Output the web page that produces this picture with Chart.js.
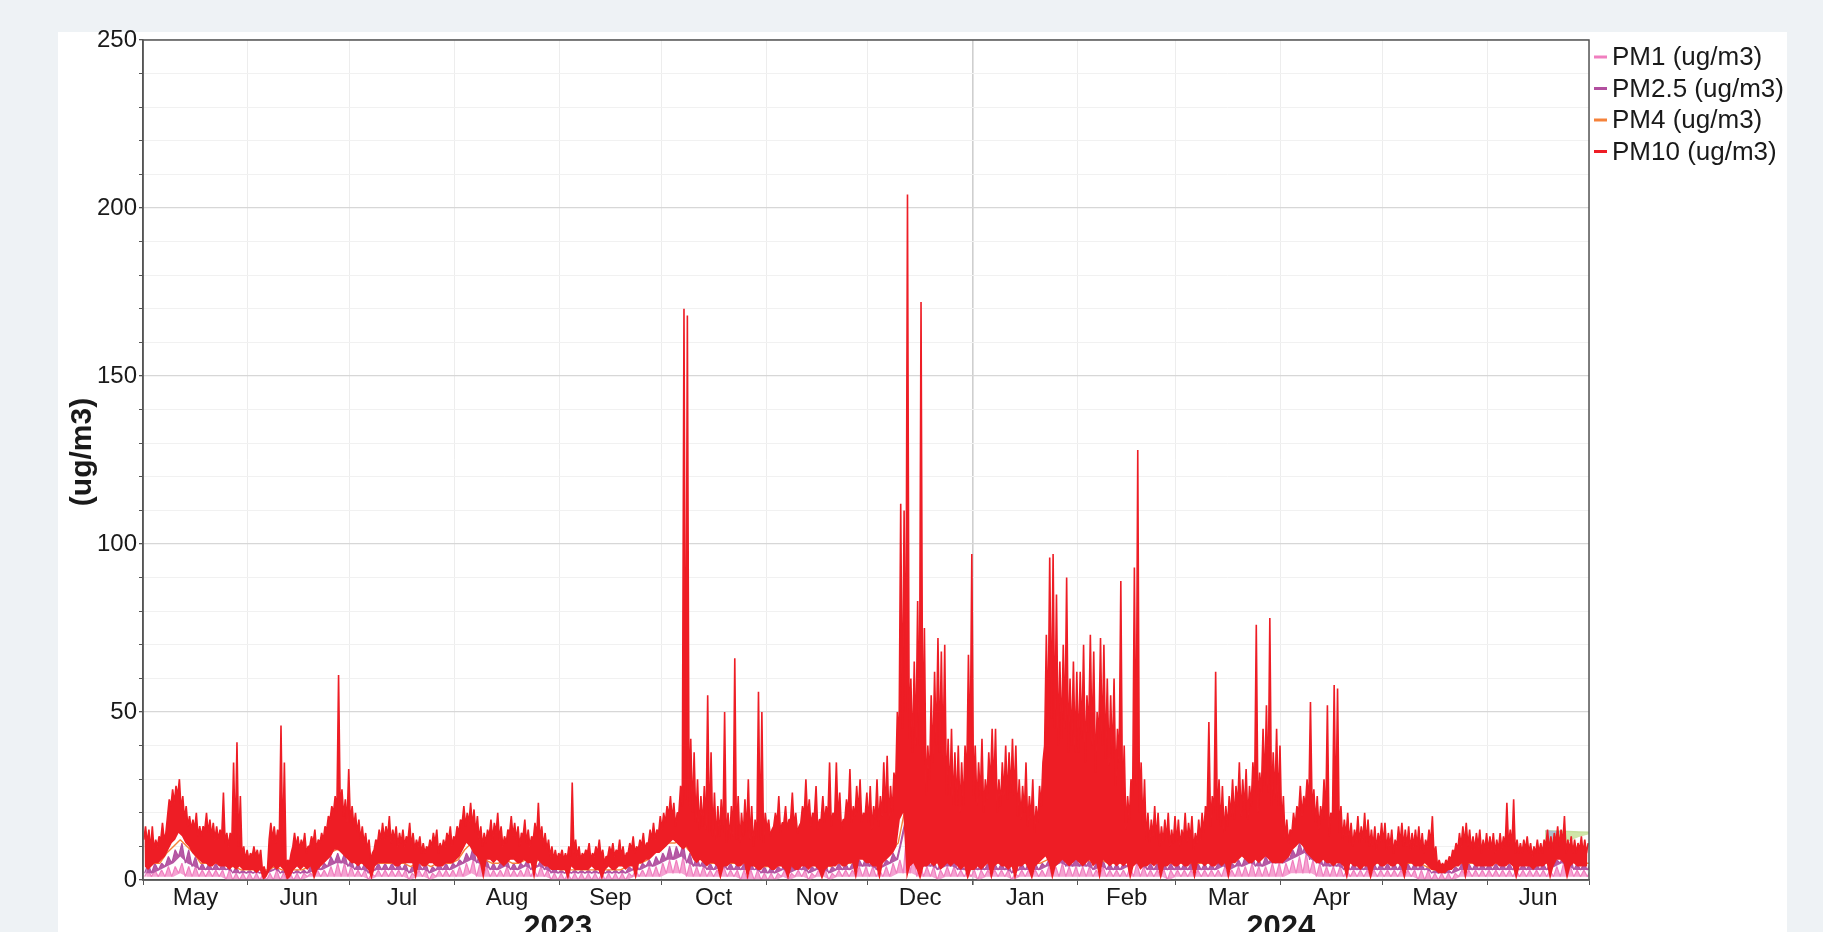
<!DOCTYPE html>
<html>
<head>
<meta charset="utf-8">
<title>PM (ug/m3)</title>
<script src="https://cdn.jsdelivr.net/npm/chart.js@4.4.1/dist/chart.umd.min.js"></script>
<style>
  html, body { margin: 0; padding: 0; background: #eef2f5; }
  #wrap { position: relative; width: 1823px; height: 932px; }
</style>
</head>
<body>
<div id="wrap"><canvas id="pmChart"></canvas></div>
<script>
// x is counted in days from 1 May 2023
const monthNames = ['May', 'Jun', 'Jul', 'Aug', 'Sep', 'Oct', 'Nov', 'Dec', 'Jan', 'Feb', 'Mar', 'Apr', 'May', 'Jun'];
const monthStarts = [0, 31, 61, 92, 123, 153, 184, 214, 245, 276, 305, 336, 366, 397, 427];
const yearNames = ['2023', '2024'];
const yearStarts = [0, 245, 427];
const seriesNames = ['PM1 (ug/m3)', 'PM2.5 (ug/m3)', 'PM4 (ug/m3)', 'PM10 (ug/m3)'];

// PM10 per day: highest reading, usual level, lowest reading
const pm10High = [
  16,15,16,12,13,17,14,24,27,28,30,25,22,19,18,20,16,16,20,18,17,16,15,26,14,14,35,41,25,10,9,
  8,10,9,9,4,3,17,16,15,46,35,6,8,14,13,12,14,10,13,15,12,14,16,19,22,25,61,27,24,33,
  22,20,18,16,14,12,8,12,15,17,16,19,15,16,14,15,13,17,14,12,13,11,10,12,14,15,11,12,14,16,13,
  16,18,22,20,23,21,19,16,14,15,18,17,20,16,13,15,19,17,16,14,18,15,13,17,23,16,14,12,10,9,8,
  9,8,10,29,12,10,8,9,11,8,10,12,9,7,10,11,9,12,10,8,11,13,10,12,14,11,15,17,15,19,
  20,22,25,23,20,28,170,168,42,38,30,25,28,55,38,26,22,24,50,20,22,66,25,20,24,30,22,18,56,50,20,
  18,15,20,25,17,22,18,26,20,16,22,30,24,20,28,18,25,22,35,20,35,26,18,24,33,22,28,30,20,26,
  28,22,30,25,35,37,28,32,50,112,110,204,60,65,83,172,75,40,55,62,72,68,70,42,45,38,40,35,40,67,97,
  40,35,42,30,38,45,45,30,35,40,38,42,40,30,28,35,25,30,22,28,35,73,96,97,85,65,70,90,60,65,62,
  62,70,55,73,68,50,72,70,60,55,60,45,89,40,25,30,93,128,35,30,20,18,22,20,16,18,20,15,19,
  18,15,20,17,19,14,18,20,22,47,25,62,30,28,22,25,30,28,35,30,33,28,35,76,32,45,52,78,38,45,40,
  25,18,15,20,22,28,25,30,53,27,25,22,30,52,20,58,57,22,18,20,17,15,19,16,20,18,15,16,14,17,
  17,14,15,12,16,17,15,16,14,15,16,14,12,15,19,10,6,5,6,7,9,11,14,16,17,15,13,14,15,12,14,
  13,14,12,14,13,23,15,24,12,11,12,13,11,10,12,11,12,15,13,14,16,15,19,12,13,12,11,13,12,11
];
const pm10Mid = [
  12,11,9,9,10,12,12,19,22,23,25,21,18,16,15,15,13,13,15,14,13,12,12,13,11,10,12,12,10,7,6,
  6,7,7,6,3,2,12,12,11,12,10,4,5,10,10,9,10,8,10,11,9,11,12,15,18,20,20,21,19,17,
  17,16,14,12,11,9,6,9,11,12,12,13,11,12,10,11,10,12,10,9,10,8,8,9,10,11,8,9,10,12,10,
  12,14,17,16,17,16,14,12,10,11,13,12,14,12,10,11,14,13,12,10,13,11,10,12,13,12,10,9,7,6,6,
  7,6,6,7,8,7,6,7,8,6,7,8,7,5,7,8,7,8,7,6,8,9,8,9,10,9,11,12,12,14,
  15,17,19,18,16,20,22,24,22,20,17,15,16,15,14,13,12,13,14,11,12,13,12,11,13,14,12,10,12,12,11,
  15,13,16,17,14,17,15,18,16,14,17,19,18,16,19,15,18,17,19,16,19,18,15,18,20,17,19,20,17,19,
  17,15,18,16,19,20,18,20,28,40,45,50,42,38,40,40,36,25,30,35,40,38,36,25,25,22,22,20,22,30,35,
  25,22,25,20,24,28,27,20,22,25,24,26,25,19,18,20,16,18,14,17,22,40,45,48,45,40,42,45,38,40,38,
  38,42,35,44,40,32,42,40,36,34,36,28,35,22,15,18,25,28,20,16,12,11,13,12,10,11,12,10,11,
  11,10,12,11,12,9,11,12,14,20,16,20,18,16,14,16,19,18,22,19,21,18,22,26,20,26,28,26,22,24,22,
  16,12,11,14,16,20,19,22,22,20,17,15,18,18,13,18,18,14,12,13,11,10,12,11,12,11,10,10,9,11,
  11,9,10,8,10,11,10,10,9,10,10,9,8,10,11,7,4,4,4,5,6,8,9,10,11,10,9,9,10,8,9,
  9,9,8,9,9,10,10,10,8,8,8,9,8,7,8,8,8,10,9,9,11,10,11,8,9,8,8,9,8,8
];
const pm10Low = [
  4,3,4,5,5,6,7,9,11,12,14,13,11,10,8,7,6,5,5,4,4,5,4,4,4,3,4,3,4,3,3,
  3,3,2,3,0,1,3,4,3,4,3,0,1,3,4,3,4,3,4,0,3,4,5,6,7,9,9,8,7,6,
  5,5,4,5,4,3,0,4,5,5,5,5,5,4,4,5,5,5,5,0,5,4,4,5,5,4,4,4,5,5,5,
  6,7,9,11,10,8,7,5,0,6,6,5,6,5,4,5,6,6,5,5,6,5,5,0,6,5,4,4,3,3,3,
  3,3,0,4,3,3,3,3,3,4,3,3,0,3,4,3,3,4,4,3,4,4,0,5,5,6,6,7,8,8,
  9,10,11,12,11,10,9,10,8,6,5,6,5,4,5,5,4,0,4,4,5,5,4,4,5,0,4,4,3,3,4,
  4,3,3,4,4,3,0,4,3,3,4,4,3,4,4,3,0,3,4,4,4,5,4,4,5,5,0,6,6,5,
  5,4,4,0,5,6,7,8,10,18,20,0,4,5,3,0,4,4,5,4,5,3,4,5,4,5,4,3,4,0,3,
  3,4,3,4,5,0,4,5,4,4,3,4,0,4,4,5,3,0,4,5,6,7,5,0,4,5,6,5,4,5,6,
  5,4,5,6,4,5,0,6,5,4,5,4,5,4,5,0,4,5,3,4,4,5,4,5,0,4,4,5,4,
  4,5,4,4,5,0,5,5,4,5,4,4,5,4,5,0,5,5,6,7,6,5,5,6,5,6,7,6,5,5,5,
  5,6,7,9,10,11,10,8,7,6,5,5,6,5,5,4,5,5,4,0,5,4,4,3,4,4,0,4,5,4,
  4,5,4,4,5,4,0,5,5,4,4,4,5,4,3,3,2,2,2,3,3,4,4,5,0,5,5,4,4,4,4,
  4,4,5,4,4,4,5,4,0,4,4,4,4,3,4,4,4,5,0,4,6,6,5,0,4,5,4,4,4,4
];

// PM1, PM2.5 and PM4 per two days
const pm1High = [
  3,3,3,4,4,5,4,4,3,3,3,3,3,2,2,2, 2,2,2,3,2,2,2,2,2,3,3,4,5,5,4,
  3,3,2,3,3,3,3,3,2,3,3,2,3,3,3, 4,5,6,5,4,3,3,4,3,3,4,3,4,3,2,
  2,2,2,2,2,2,2,2,2,2,2,3,3,4,4, 5,6,6,7,5,4,4,3,3,4,3,3,3,3,3,2,
  2,2,3,2,3,3,2,3,3,2,3,3,3,4,4, 4,3,4,5,6,14,8,5,4,4,3,4,4,3,3,3,
  3,3,3,3,3,2,3,3,3,3,4,4,5,4,4, 4,4,3,4,3,3,3,4,5,4,3,3,3,3,3,
  3,3,3,3,3,3,4,3,4,4,5,4,4,5,5, 5,6,7,8,6,5,4,4,4,3,3,3,3,3,3,
  3,3,3,3,3,3,3,2,2,2,2,3,3,3,3,3, 3,3,3,3,3,3,3,3,3,4,5,4,3,3,3
];
const pm1Low = [
  1,1,1,1,1,2,1,1,1,1,1,1,0,0,0,0, 0,0,0,0,0,0,0,0,1,1,1,1,1,1,1,
  1,1,0,1,1,1,1,1,0,1,1,0,1,1,1, 1,1,2,1,1,1,1,1,1,1,1,1,1,1,0,
  0,0,0,0,0,0,0,0,0,0,0,1,1,1,1, 1,2,2,2,1,1,1,1,1,1,1,1,0,0,0,0,
  0,0,1,0,1,1,0,1,1,0,1,1,1,1,1, 1,1,1,1,2,2,2,1,1,1,0,1,1,1,1,1,
  0,1,1,1,1,0,1,1,1,1,1,1,1,1,1, 1,1,1,1,1,1,1,1,1,1,1,1,1,0,1,
  1,1,1,1,1,1,1,1,1,1,1,1,1,1,1, 1,2,2,2,2,1,1,1,1,1,1,1,1,1,1,
  1,1,1,1,1,0,0,0,0,0,0,1,1,1,1,1, 1,1,1,1,1,1,1,1,1,1,1,1,1,1,1
];
const pm25High = [
  5,5,5,7,9,11,9,7,5,5,5,5,4,4,3,3, 3,3,3,4,3,3,3,3,4,5,5,7,8,8,6,
  5,5,4,5,5,5,5,5,4,5,5,4,5,5,5, 6,8,10,8,6,5,5,6,5,5,6,5,6,5,4,
  3,3,3,3,3,3,3,3,3,3,4,5,5,6,7, 8,10,10,11,8,7,6,5,5,6,5,5,5,5,4,4,
  4,4,5,4,5,5,4,5,5,4,5,5,5,6,7, 7,5,6,8,10,19,11,8,7,6,5,6,6,5,5,5,
  5,5,5,5,5,4,5,5,5,5,6,7,8,7,7, 7,6,5,6,5,5,5,6,8,6,5,5,5,5,5,
  5,5,5,5,5,5,6,5,6,7,8,6,7,8,8, 8,9,11,12,10,8,7,6,6,5,5,5,5,5,5,
  5,5,5,5,5,5,4,3,3,3,4,5,5,5,5,5, 5,5,5,5,5,5,5,5,5,6,8,7,5,5,5
];
const pm25Low = [
  2,2,3,4,5,7,5,4,3,3,3,3,3,2,2,2, 2,2,2,3,2,2,2,2,2,3,3,4,5,5,4,
  3,3,2,3,3,3,3,3,2,3,3,2,3,3,3, 4,5,6,5,4,3,3,4,3,3,4,3,4,3,2,
  2,2,2,2,2,2,2,2,2,2,2,3,3,4,4, 5,6,6,7,5,4,4,3,3,4,3,3,3,3,3,2,
  2,2,3,2,3,3,2,3,3,2,3,3,3,4,4, 4,3,4,5,6,15,8,5,4,4,3,4,4,3,3,3,
  3,3,3,3,3,2,3,3,3,3,4,4,5,4,4, 4,4,3,4,3,3,3,4,5,4,3,3,3,3,3,
  3,3,3,3,3,3,4,3,4,4,5,4,4,5,5, 5,6,7,8,6,5,4,4,4,3,3,3,3,3,3,
  3,3,3,3,3,3,3,2,2,2,2,3,3,3,3,3, 3,3,3,3,3,3,3,3,3,4,5,4,3,3,3
];
const pm4High = [
  5,5,5,8,10,12,10,8,5,5,5,5,4,4,3,3, 3,3,3,4,3,3,3,3,4,5,5,8,9,9,6,
  5,5,4,5,5,5,5,5,4,5,5,4,5,5,5, 6,9,11,9,6,5,5,6,5,5,6,5,6,5,4,
  3,3,3,3,3,3,3,3,3,3,4,5,5,6,8, 9,11,11,12,9,7,6,5,5,6,5,5,5,5,4,4,
  4,4,5,4,5,5,4,5,5,4,5,5,5,6,8, 8,5,6,9,11,21,12,8,7,6,5,6,6,5,5,5,
  5,5,5,5,5,4,5,5,5,5,6,8,9,8,8, 8,6,5,6,5,5,5,6,9,6,5,5,5,5,5,
  5,5,5,5,5,5,6,5,6,8,9,6,8,9,9, 9,10,12,13,11,8,7,6,6,5,5,5,5,5,5,
  5,5,5,5,5,5,4,3,3,3,4,5,5,5,5,5, 5,5,5,5,5,5,5,5,5,6,9,8,5,5,5
];

// the small unlabelled shapes near the end of June 2024
const greenDays = [414, 415, 418, 421, 424, 427];
const greenTop = [14.6, 14.6, 14.5, 14.4, 14.3, 14.2];
const greenBottom = [7, 9, 10, 11.5, 12.8, 13.6];
const blueDays = [414.2, 415, 417, 418.5];
const blueTop = [14.6, 14.6, 14.5, 14.5];
const blueBottom = [11, 11, 12.5, 14.3];

const seriesColors = ['#f07fbf', '#b24f9f', '#f5823a', '#ee1d25'];

// two points per reading period: lower value, then upper value
function zigzag(lows, highs, step) {
  const pts = [];
  for (let i = 0; i < highs.length; i++) {
    pts.push({x: i * step + step * 0.25, y: lows[i]});
    pts.push({x: i * step + step * 0.75, y: highs[i]});
  }
  return pts;
}
function series(values, step) {
  return values.map((v, i) => ({x: i * step + step * 0.5, y: v}));
}
function pairs(xs, ys) {
  return xs.map((v, i) => ({x: v, y: ys[i]}));
}

const FONT = "'Liberation Sans', Arial, sans-serif";

const decor = {
  id: 'decor',
  beforeDraw(chart) {
    const ctx = chart.ctx;
    ctx.save();
    ctx.fillStyle = '#eef2f5';
    ctx.fillRect(0, 0, chart.width, chart.height);
    ctx.fillStyle = '#ffffff';
    ctx.fillRect(58, 32, 1729, chart.height - 32);
    ctx.restore();
  },
  afterDraw(chart) {
    const ctx = chart.ctx;
    const a = chart.chartArea;
    const x = chart.scales.x;
    ctx.save();
    // frame
    ctx.strokeStyle = '#555555';
    ctx.lineWidth = 1.5;
    ctx.strokeRect(a.left, a.top, a.right - a.left, a.bottom - a.top);

    // month labels, centred in each month
    ctx.fillStyle = '#1a1a1a';
    ctx.font = '24px ' + FONT;
    ctx.textAlign = 'center';
    ctx.textBaseline = 'alphabetic';
    for (let i = 0; i < monthNames.length; i++) {
      const cx = (x.getPixelForValue(monthStarts[i]) + x.getPixelForValue(monthStarts[i + 1])) / 2;
      ctx.fillText(monthNames[i], cx, 905);
    }
    // year labels
    ctx.font = 'bold 31px ' + FONT;
    for (let i = 0; i < yearNames.length; i++) {
      const cx = (x.getPixelForValue(yearStarts[i]) + x.getPixelForValue(yearStarts[i + 1])) / 2;
      ctx.fillText(yearNames[i], cx, 937);
    }

    // y title
    ctx.save();
    ctx.translate(83, (a.top + a.bottom) / 2 - 8);
    ctx.rotate(-Math.PI / 2);
    ctx.font = 'bold 30px ' + FONT;
    ctx.textBaseline = 'middle';
    ctx.fillText('(ug/m3)', 0, 0);
    ctx.restore();

    // legend
    ctx.font = '26px ' + FONT;
    ctx.textAlign = 'left';
    ctx.textBaseline = 'middle';
    for (let i = 0; i < seriesNames.length; i++) {
      const y = 57 + i * 31.5;
      ctx.strokeStyle = seriesColors[i];
      ctx.lineWidth = 3;
      ctx.beginPath();
      ctx.moveTo(1594, y);
      ctx.lineTo(1607, y);
      ctx.stroke();
      ctx.fillStyle = '#1a1a1a';
      ctx.fillText(seriesNames[i], 1612, y + 1);
    }
    ctx.restore();
  }
};

const noLine = { borderWidth: 0, borderColor: 'rgba(0,0,0,0)', backgroundColor: 'rgba(0,0,0,0)', fill: false };

const ctx = document.getElementById('pmChart').getContext('2d');
new Chart(ctx, {
  type: 'line',
  data: {
    datasets: [
      { label: seriesNames[0], data: zigzag(pm1Low, pm1High, 2), borderColor: seriesColors[0], backgroundColor: '#f5a3d2', borderWidth: 1.2, fill: {target: 4}, order: 5 },
      { label: seriesNames[1], data: zigzag(pm25Low, pm25High, 2), borderColor: seriesColors[1], backgroundColor: '#b65aa5', borderWidth: 1.2, fill: {target: 5}, order: 4 },
      { label: seriesNames[2], data: series(pm4High, 2), borderColor: seriesColors[2], borderWidth: 1.4, fill: false, order: 3 },
      { label: seriesNames[3], data: zigzag(pm10Mid, pm10High, 1), borderColor: seriesColors[3], backgroundColor: seriesColors[3], borderWidth: 1.6, fill: {target: 6}, order: 0 },
      Object.assign({ label: 'pm1-low', data: series(pm1Low, 2), order: 20 }, noLine),
      Object.assign({ label: 'pm25-low', data: series(pm25Low, 2), order: 21 }, noLine),
      Object.assign({ label: 'pm10-low', data: series(pm10Low, 1), order: 22 }, noLine),
      { label: 'green-top', data: pairs(greenDays, greenTop), borderColor: '#c6e09c', backgroundColor: '#cfe5a8', borderWidth: 1.5, fill: {target: 8}, order: 2 },
      Object.assign({ label: 'green-bottom', data: pairs(greenDays, greenBottom), order: 23 }, noLine),
      { label: 'blue-top', data: pairs(blueDays, blueTop), borderColor: '#a6bccb', backgroundColor: '#a9bfcd', borderWidth: 1, fill: {target: 10}, order: 1 },
      Object.assign({ label: 'blue-bottom', data: pairs(blueDays, blueBottom), order: 24 }, noLine)
    ]
  },
  options: {
    responsive: true,
    maintainAspectRatio: false,
    animation: false,
    parsing: false,
    normalized: true,
    layout: { padding: { left: 0, top: 40, right: 234, bottom: 0 } },
    elements: {
      point: { radius: 0 },
      line: { tension: 0, borderJoinStyle: 'bevel' }
    },
    plugins: {
      legend: { display: false },
      tooltip: { enabled: false },
      title: { display: false },
      filler: { propagate: false }
    },
    scales: {
      x: {
        type: 'linear',
        min: 0,
        max: 427,
        afterBuildTicks: function(s) { s.ticks = monthStarts.map(v => ({value: v})); },
        afterFit: function(s) { s.height = 52; },
        ticks: { display: false, autoSkip: false },
        grid: {
          color: c => (c.tick && c.tick.value === 245) ? '#cfcfcf' : '#ededed',
          lineWidth: c => (c.tick && c.tick.value === 245) ? 1.6 : 1,
          tickLength: 5,
          tickColor: '#555555'
        },
        border: { color: '#555555', width: 1.5 }
      },
      y: {
        min: 0,
        max: 250,
        afterFit: function(s) { s.width = 143; },
        ticks: {
          stepSize: 10,
          autoSkip: false,
          padding: 2,
          color: '#1a1a1a',
          font: { family: FONT, size: 24 },
          callback: v => (v % 50 === 0 ? String(v) : '')
        },
        grid: {
          color: c => (c.tick.value % 50 === 0 ? '#d7d7d7' : '#f1f1f1'),
          lineWidth: c => (c.tick.value % 50 === 0 ? 1.3 : 1),
          tickLength: 4,
          tickColor: '#555555'
        },
        border: { color: '#555555', width: 1.5 }
      }
    }
  },
  plugins: [decor]
});
</script>
</body>
</html>
